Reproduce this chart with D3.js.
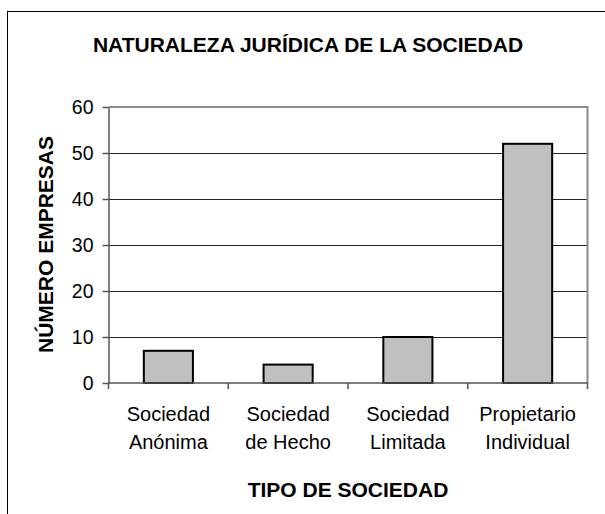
<!DOCTYPE html>
<html>
<head>
<meta charset="utf-8">
<script src="https://cdn.jsdelivr.net/npm/d3@7"></script>
<style>
  body { margin: 0; background: #fff; }
  text { font-family: "Liberation Sans", Arial, sans-serif; fill: #000; }
</style>
</head>
<body>
<div id="chart"></div>
<script>
// chart data
var categories = ["Sociedad Anónima", "Sociedad de Hecho", "Sociedad Limitada", "Propietario Individual"];
var catLines = [["Sociedad", "Anónima"], ["Sociedad", "de Hecho"], ["Sociedad", "Limitada"], ["Propietario", "Individual"]];
var empresas = [7, 4, 10, 52];
var yTicks = [0, 10, 20, 30, 40, 50, 60];

var svgWidth = 605, svgHeight = 514;

var plot = { left: 108.5, right: 587.5, top: 107, bottom: 383 };

var svg = d3.select("#chart")
  .append("svg")
  .attr("width", svgWidth)
  .attr("height", svgHeight);

// outer chart frame (runs past the picture on right and bottom)
svg.append("rect")
  .attr("x", 7.5)
  .attr("y", 11.5)
  .attr("width", 700)
  .attr("height", 600)
  .attr("fill", "none")
  .attr("stroke", "#000")
  .attr("stroke-width", 1);

// scales
var x = d3.scaleBand()
  .domain(categories)
  .range([plot.left, plot.right])
  .paddingInner(0.59)
  .paddingOuter(0.295);

var y = d3.scaleLinear()
  .domain([0, 60])
  .range([plot.bottom, plot.top]);

// gridlines
svg.append("g")
  .selectAll("line")
  .data(yTicks.filter(function (d) { return d > 0 && d < 60; }))
  .enter()
  .append("line")
  .attr("x1", plot.left)
  .attr("x2", plot.right)
  .attr("y1", function (d) { return Math.round(y(d)) + 0.5; })
  .attr("y2", function (d) { return Math.round(y(d)) + 0.5; })
  .attr("stroke", "#222")
  .attr("stroke-width", 1);

// plot area border (top / right)
svg.append("path")
  .attr("d", "M" + plot.left + "," + y(60) + "H" + plot.right + "V" + y(0))
  .attr("fill", "none")
  .attr("stroke", "#8c8c8c")
  .attr("stroke-width", 2);

// bars
svg.append("g")
  .selectAll("rect")
  .data(empresas)
  .enter()
  .append("rect")
  .attr("x", function (d, i) { return x(categories[i]); })
  .attr("y", function (d) { return y(d); })
  .attr("width", x.bandwidth())
  .attr("height", function (d) { return y(0) - y(d); })
  .attr("fill", "#c0c0c0")
  .attr("stroke", "#000")
  .attr("stroke-width", 2);

// y axis
var leftAxis = d3.axisLeft(y)
  .tickValues(yTicks)
  .tickSize(6)
  .tickSizeOuter(0)
  .tickPadding(9);

var yAxis = svg.append("g")
  .attr("transform", "translate(" + plot.left + ",0)")
  .call(leftAxis);

yAxis.selectAll("text")
  .attr("font-size", "19.5px")
  .attr("font-family", "Liberation Sans, Arial, sans-serif");
yAxis.selectAll("line, path").attr("stroke", "#555").attr("stroke-width", 1.5);

// x axis line + boundary ticks
svg.append("line")
  .attr("x1", plot.left)
  .attr("x2", plot.right)
  .attr("y1", y(0))
  .attr("y2", y(0))
  .attr("stroke", "#555")
  .attr("stroke-width", 1.5);

var bounds = d3.range(categories.length + 1).map(function (i) {
  return plot.left + i * x.step();
});

svg.append("g")
  .selectAll("line")
  .data(bounds)
  .enter()
  .append("line")
  .attr("x1", function (d) { return d; })
  .attr("x2", function (d) { return d; })
  .attr("y1", y(0))
  .attr("y2", y(0) + 6)
  .attr("stroke", "#555")
  .attr("stroke-width", 1.5);

// category labels
var catLabels = svg.append("g")
  .selectAll("text")
  .data(catLines)
  .enter()
  .append("text")
  .attr("text-anchor", "middle")
  .attr("font-size", "20px")
  .attr("x", function (d, i) { return x(categories[i]) + x.bandwidth() / 2; });

catLabels.selectAll("tspan")
  .data(function (d) { return d; })
  .enter()
  .append("tspan")
  .attr("x", function () { return d3.select(this.parentNode).attr("x"); })
  .attr("y", function (d, j) { return 421 + j * 27.5; })
  .text(function (d) { return d; });

// titles
svg.append("text")
  .attr("x", 308)
  .attr("y", 52)
  .attr("text-anchor", "middle")
  .attr("font-size", "21px")
  .attr("font-weight", "bold")
  .text("NATURALEZA JURÍDICA DE LA SOCIEDAD");

svg.append("text")
  .attr("x", (plot.left + plot.right) / 2)
  .attr("y", 497)
  .attr("text-anchor", "middle")
  .attr("font-size", "21px")
  .attr("font-weight", "bold")
  .text("TIPO DE SOCIEDAD");

svg.append("text")
  .attr("transform", "translate(53,244.5) rotate(-90)")
  .attr("text-anchor", "middle")
  .attr("font-size", "21px")
  .attr("font-weight", "bold")
  .text("NÚMERO EMPRESAS");
</script>
</body>
</html>
